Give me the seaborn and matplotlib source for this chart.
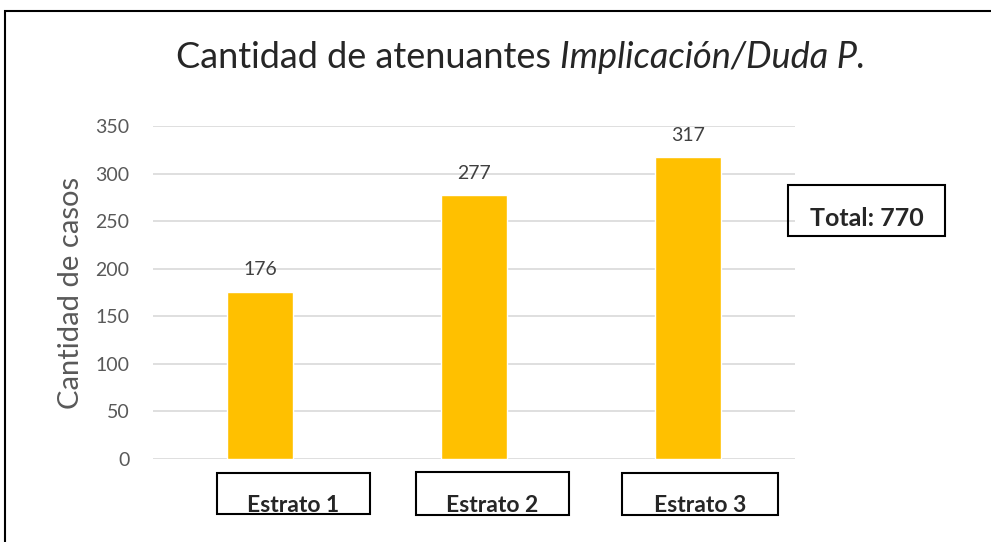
import matplotlib
matplotlib.use("Agg")
import matplotlib.pyplot as plt
import matplotlib.patches as mpatches
import seaborn as sns
import pandas as pd

categories = ["Estrato 1", "Estrato 2", "Estrato 3"]
values = [176, 277, 317]
total_label = "Total: 770"
title_plain = "Cantidad de atenuantes "
title_italic = "Implicación/Duda P."
ylabel = "Cantidad de casos"
yticks = [0, 50, 100, 150, 200, 250, 300, 350]

df = pd.DataFrame({"cat": categories, "val": values})

sns.set_style("white")
plt.rcParams["font.family"] = ["Lato", "DejaVu Sans"]

W, H = 991, 542
fig = plt.figure(figsize=(W / 100, H / 100), dpi=100)
ax = fig.add_axes([153 / W, 1 - 459 / H, 642 / W, 333 / H])

sns.barplot(data=df, x="cat", y="val", color="#FFC000", width=0.31,
            saturation=1, ax=ax, zorder=3)
ax.set_ylim(0, 350)
ax.set_xlim(-0.5, 2.5)
ax.set_yticks(yticks)
ax.yaxis.grid(True, color="#D9D9D9", lw=1.2, zorder=0)
ax.set_axisbelow(True)
for s in ax.spines.values():
    s.set_visible(False)
ax.tick_params(axis="y", length=0, pad=17, labelsize=14, labelcolor="#595959")
ax.set_xticks([])
ax.set_xlabel("")
ax.set_ylabel(ylabel, fontsize=21, color="#595959", labelpad=8)

for i, v in enumerate(values):
    ax.text(i, v + 14, str(v), ha="center", va="bottom", fontsize=14, color="#404040")

# title, plain + italic part
t1 = fig.text(176 / W, 1 - 58 / H, title_plain, fontsize=26, va="center", ha="left")
fig.canvas.draw()
bb = t1.get_window_extent()
fig.text(bb.x1 / W, 1 - 58 / H, title_italic, fontsize=26, va="center", ha="left",
         style="italic")

# boxed category labels
boxes = [(217, 473, 370, 514), (416, 472, 569, 515), (622, 473, 778, 515)]
for (x0, y0, x1, y1), lab in zip(boxes, categories):
    fig.patches.append(mpatches.Rectangle((x0 / W, 1 - y1 / H), (x1 - x0) / W,
                                          (y1 - y0) / H, transform=fig.transFigure,
                                          fill=False, ec="black", lw=1.5))
    fig.text((x0 + x1) / 2 / W, 1 - 505 / H, lab, ha="center", va="center",
             fontsize=16.5, fontweight="bold")

# total box
x0, y0, x1, y1 = 788, 185, 945, 236
fig.patches.append(mpatches.Rectangle((x0 / W, 1 - y1 / H), (x1 - x0) / W,
                                      (y1 - y0) / H, transform=fig.transFigure,
                                      fill=False, ec="black", lw=1.5))
fig.text((x0 + x1) / 2 / W, 1 - 218 / H, total_label, ha="center", va="center",
         fontsize=18, fontweight="bold")

# outer frame
fig.patches.append(mpatches.Rectangle((5 / W, -0.1), 1.1, 1.1 - 11 / H,
                                      transform=fig.transFigure, fill=False,
                                      ec="black", lw=1.5))

fig.savefig("out.png", dpi=100)
